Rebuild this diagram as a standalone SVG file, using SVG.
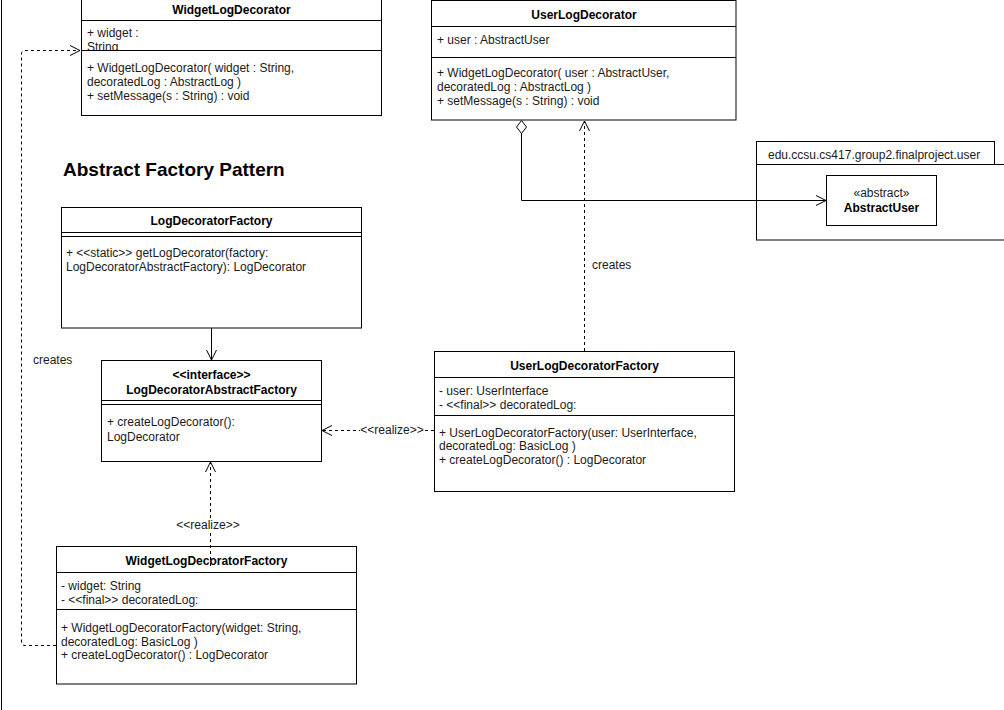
<svg xmlns="http://www.w3.org/2000/svg" width="1004" height="710" viewBox="0 0 1004 710">
<style>
text{font-family:"Liberation Sans",Arial,sans-serif;font-size:12px;fill:#1a1a1a}
.t{font-weight:bold;text-anchor:middle;fill:#000}
.c{text-anchor:middle}
.box{fill:#fff;stroke:#000;stroke-width:1}
.ln{stroke:#000;stroke-width:1;fill:none}
.dash{stroke:#000;stroke-width:1;fill:none;stroke-dasharray:3 3}
.h{font-size:19px;font-weight:bold;fill:#000}
</style>
<defs>
<marker id="open" markerUnits="userSpaceOnUse" markerWidth="12" markerHeight="12" refX="10" refY="5" orient="auto" viewBox="0 0 12 10">
<path d="M0,0 L10,5 L0,10" fill="none" stroke="#000" stroke-width="1"/>
</marker>
<clipPath id="clipW"><rect x="81" y="20" width="300" height="30"/></clipPath>
</defs>
<rect width="1004" height="710" fill="#fff"/>
<line x1="1.5" y1="0" x2="1.5" y2="710" class="ln"/>
<text x="63" y="176" class="h">Abstract Factory Pattern</text>

<g id="widgetLogDecorator">
<rect x="81.5" y="-10" width="300" height="125.5" class="box"/>
<text x="231.5" y="14" class="t">WidgetLogDecorator</text>
<line x1="81.5" y1="20.5" x2="381.5" y2="20.5" class="ln"/>
<g clip-path="url(#clipW)">
<text x="87" y="37">+ widget :</text>
<text x="87" y="51">String</text>
</g>
<line x1="81.5" y1="50.5" x2="381.5" y2="50.5" class="ln"/>
<text x="87" y="72">+ WidgetLogDecorator( widget : String,</text>
<text x="87" y="86">decoratedLog : AbstractLog )</text>
<text x="87" y="100">+ setMessage(s : String) : void</text>
</g>

<g id="userLogDecorator">
<rect x="431.5" y="0.5" width="304.5" height="119.5" class="box"/>
<text x="584" y="19" class="t">UserLogDecorator</text>
<line x1="431.5" y1="26.5" x2="736" y2="26.5" class="ln"/>
<text x="437" y="44">+ user : AbstractUser</text>
<line x1="431.5" y1="57.5" x2="736" y2="57.5" class="ln"/>
<text x="437" y="77">+ WidgetLogDecorator( user : AbstractUser,</text>
<text x="437" y="91">decoratedLog : AbstractLog )</text>
<text x="437" y="105">+ setMessage(s : String) : void</text>
</g>

<g id="package">
<rect x="756.5" y="141.5" width="238" height="23" class="box"/>
<rect x="756.5" y="164.5" width="260" height="75.5" class="box"/>
<text x="768" y="159">edu.ccsu.cs417.group2.finalproject.user</text>
</g>

<g id="abstractUser">
<rect x="826.5" y="175.5" width="110" height="50" class="box"/>
<text x="881.5" y="197" class="c">«abstract»</text>
<text x="881.5" y="212" class="t">AbstractUser</text>
</g>

<g id="logDecoratorFactory">
<rect x="61.5" y="207.5" width="300" height="120.5" class="box"/>
<text x="211.5" y="225" class="t">LogDecoratorFactory</text>
<line x1="61.5" y1="232.5" x2="361.5" y2="232.5" class="ln"/>
<line x1="61.5" y1="236.5" x2="361.5" y2="236.5" class="ln"/>
<text x="66" y="257">+ &lt;&lt;static&gt;&gt; getLogDecorator(factory:</text>
<text x="66" y="271">LogDecoratorAbstractFactory): LogDecorator</text>
</g>

<g id="logDecoratorAbstractFactory">
<rect x="101.5" y="360.5" width="220" height="101" class="box"/>
<text x="211.5" y="379" class="t">&lt;&lt;interface&gt;&gt;</text>
<text x="211.5" y="394" class="t">LogDecoratorAbstractFactory</text>
<line x1="101.5" y1="400.5" x2="321.5" y2="400.5" class="ln"/>
<line x1="101.5" y1="404.5" x2="321.5" y2="404.5" class="ln"/>
<text x="107" y="426">+ createLogDecorator():</text>
<text x="107" y="441">LogDecorator</text>
</g>

<g id="userLogDecoratorFactory">
<rect x="434.5" y="351.5" width="300" height="140" class="box"/>
<text x="584.5" y="370" class="t">UserLogDecoratorFactory</text>
<line x1="434.5" y1="377.5" x2="734.5" y2="377.5" class="ln"/>
<text x="439" y="395">- user: UserInterface</text>
<text x="439" y="409">- &lt;&lt;final&gt;&gt; decoratedLog:</text>
<line x1="434.5" y1="415.5" x2="734.5" y2="415.5" class="ln"/>
<text x="439" y="437">+ UserLogDecoratorFactory(user: UserInterface,</text>
<text x="439" y="450">decoratedLog: BasicLog )</text>
<text x="439" y="464">+ createLogDecorator() : LogDecorator</text>
</g>

<g id="widgetLogDecoratorFactory">
<rect x="56.5" y="546.5" width="300" height="137.5" class="box"/>
<text x="206.5" y="565" class="t">WidgetLogDecoratorFactory</text>
<line x1="56.5" y1="572.5" x2="356.5" y2="572.5" class="ln"/>
<text x="61" y="590">- widget: String</text>
<text x="61" y="604">- &lt;&lt;final&gt;&gt; decoratedLog:</text>
<line x1="56.5" y1="609.5" x2="356.5" y2="609.5" class="ln"/>
<text x="61" y="632">+ WidgetLogDecoratorFactory(widget: String,</text>
<text x="61" y="646">decoratedLog: BasicLog )</text>
<text x="61" y="659">+ createLogDecorator() : LogDecorator</text>
</g>

<g id="connectors">
<path d="M521.5,133 L521.5,200.5 L826,200.5" class="ln" marker-end="url(#open)"/>
<polygon points="521.5,120.5 526.5,127 521.5,133.5 516.5,127" fill="#fff" stroke="#000"/>
<path d="M584.5,351 L584.5,121" class="dash" marker-end="url(#open)"/>
<text x="592" y="269">creates</text>
<path d="M211.5,328 L211.5,360" class="ln" marker-end="url(#open)"/>
<path d="M434,430.5 L322,430.5" class="dash" marker-end="url(#open)"/>
<rect x="360" y="423" width="64" height="13" fill="#fff"/>
<text x="392" y="434" class="c">&lt;&lt;realize&gt;&gt;</text>
<path d="M210.5,566 L210.5,462" class="dash" marker-end="url(#open)"/>
<rect x="176" y="518" width="64" height="14" fill="#fff"/>
<text x="208" y="529" class="c">&lt;&lt;realize&gt;&gt;</text>
<path d="M56,645.5 L25,645.5 Q21.5,645.5 21.5,642 L21.5,54 Q21.5,50.5 25,50.5 L80,50.5" class="dash" marker-end="url(#open)"/>
<text x="33" y="364">creates</text>
</g>
</svg>
